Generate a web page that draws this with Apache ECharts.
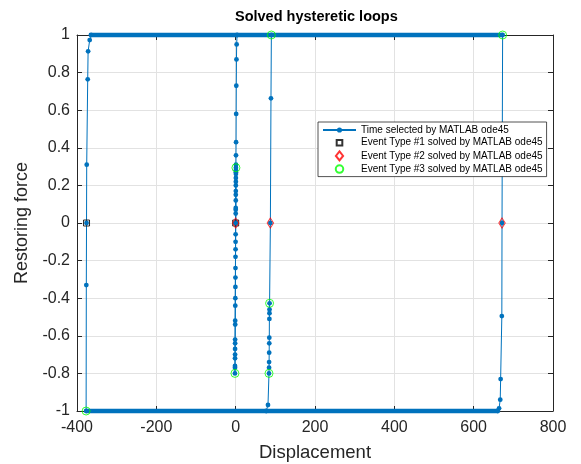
<!DOCTYPE html>
<html><head><meta charset="utf-8">
<script src="https://cdn.jsdelivr.net/npm/echarts@6/dist/echarts.min.js"></script>
<style>html,body{margin:0;padding:0;background:#fff}#c{width:581px;height:464px}</style>
</head><body><div id="c"></div>
<script>
// Axis ticks
const xTicks = [-400, -200, 0, 200, 400, 600, 800];
const yTicks = [-1, -0.8, -0.6, -0.4, -0.2, 0, 0.2, 0.4, 0.6, 0.8, 1];

// Time steps selected by ode45 (trajectory order), displacement / restoring force
const pathX = [
  0, 0.2, 0.4, 0.5, 0.6, 0.65,
  0.6, 0.5, 0.3, 0.15, 0, -0.1, -0.3, -0.5, -0.7, -1.0, -1.2, -1.4, -1.5, -1.6, -1.7, -1.8,
  -1.7, -1.5, -1.4, -1.2, -0.9, -0.6, -0.4, -0.2, 0, 0.1, 0.3, 0.4, 0.6, 0.7, 0.8, 1.0, 1.3, 1.6, 2.0, 2.5, 3.5,
  673,
  671.5, 671, 668, 667, 664, 661,
  -377,
  -376.5, -376, -375.5, -373, -372, -368, -365,
  90,
  89, 87.5, 85.5, 85.3, 85.2, 85, 84.8, 84.7, 84.5, 84.3, 84.2, 84, 81.5, 77
];
const pathY = [
  0, 0.08, 0.17, 0.24, 0.28, 0.294,
  0.27, 0.22, 0.15, 0.07, 0, -0.06, -0.14, -0.24, -0.34, -0.44, -0.54, -0.62, -0.67, -0.72, -0.77, -0.80,
  -0.76, -0.70, -0.64, -0.52, -0.40, -0.29, -0.18, -0.10, 0, 0.05, 0.12, 0.20, 0.26, 0.31, 0.36, 0.43, 0.58, 0.73, 0.87, 0.95, 1,
  1,
  0, -0.495, -0.83, -0.94, -0.986, -1,
  -1,
  -0.33, 0, 0.31, 0.764, 0.913, 0.973, 1,
  1,
  0.663, 0, -0.427, -0.46, -0.48, -0.51, -0.61, -0.64, -0.69, -0.74, -0.77, -0.80, -0.968, -1
];

// Dense time steps along the yielded plateaus (extent)
const plateauTopX = [-365, 673];
const plateauBottomX = [-377, 661];

// Events
const ev1X = [-376, 0];
const ev1Y = [0, 0];
const ev2X = [0, 87.5, 671.5];
const ev2Y = [0, 0, 0];
const ev3X = [0.65, -1.8, 673, -377, 90, 85.5, 84];
const ev3Y = [0.294, -0.80, 1, -1, 1, -0.427, -0.80];

const FONT = 'Liberation Sans, Arial, Helvetica, sans-serif';
const AX = '#262626';
const BLUE = '#0072BD';
const zip = (a, b) => a.map((v, i) => [v, b[i]]);
const NAME0 = 'Time selected by MATLAB ode45';
// marker shapes (padded so legend icons keep MATLAB-like proportions)
const DOT = 'path://M-2,-2M10,5A5,5 0 1 1 0,5A5,5 0 1 1 10,5ZM12,12';
const SQUARE = 'path://M-3,-3M0,0L10,0L10,10L0,10ZM13,13';
const DIAMOND = 'path://M4,0L8,5L4,10L0,5Z';
const RING = 'path://M-1,-1M10,5A5,5 0 1 1 0,5A5,5 0 1 1 10,5ZM11,11';

const chart = echarts.init(document.getElementById('c'), null, {renderer: 'canvas'});

const baseX = {
  type: 'value', min: xTicks[0], max: xTicks[xTicks.length - 1], interval: xTicks[1] - xTicks[0]
};
const baseY = {
  type: 'value', min: yTicks[0], max: yTicks[yTicks.length - 1], interval: 0.2
};
const TICK_FS = 16;

chart.setOption({
  animation: false,
  backgroundColor: '#fff',
  title: {
    text: 'Solved hysteretic loops', left: 230, top: 4,
    textStyle: {fontSize: 14.5, fontWeight: 'bold', color: '#000', fontFamily: FONT}
  },
  grid: {left: 77, right: 28, top: 35, bottom: 53, containLabel: false, outerBoundsMode: 'none'},
  legend: {
    orient: 'vertical', left: 318, top: 122,
    padding: [3, 4, 2, 4], itemGap: 2.2, itemWidth: 33, itemHeight: 9,
    borderColor: AX, borderWidth: 0.8, backgroundColor: '#fff', borderRadius: 0,
    textStyle: {fontSize: 10, lineHeight: 10, color: '#000', fontFamily: FONT},
    data: [NAME0,
      'Event Type #1 solved by MATLAB ode45',
      'Event Type #2 solved by MATLAB ode45',
      'Event Type #3 solved by MATLAB ode45']
  },
  xAxis: [
    Object.assign({}, baseX, {
      position: 'bottom',
      axisLine: {show: true, onZero: false, lineStyle: {color: AX, width: 1}},
      axisTick: {show: true, inside: true, length: 5, lineStyle: {color: AX}},
      axisLabel: {margin: 9, fontSize: TICK_FS, color: AX, fontFamily: FONT},
      splitLine: {show: true, lineStyle: {color: '#e2e2e2', width: 1}},
      name: 'Displacement', nameLocation: 'middle', nameGap: 32,
      nameTextStyle: {fontSize: 18.5, color: AX, fontFamily: FONT}
    }),
    Object.assign({}, baseX, {
      position: 'top',
      axisLine: {show: true, onZero: false, lineStyle: {color: AX, width: 1}},
      axisTick: {show: true, inside: true, length: 5, lineStyle: {color: AX}},
      axisLabel: {show: false}, splitLine: {show: false}
    })
  ],
  yAxis: [
    Object.assign({}, baseY, {
      position: 'left',
      axisLine: {show: true, onZero: false, lineStyle: {color: AX, width: 1}},
      axisTick: {show: true, inside: true, length: 5, lineStyle: {color: AX}},
      axisLabel: {margin: 7, fontSize: TICK_FS, color: AX, fontFamily: FONT,
        formatter: v => String(Math.round(v * 10) / 10)},
      splitLine: {show: true, lineStyle: {color: '#e2e2e2', width: 1}},
      name: 'Restoring force', nameLocation: 'middle', nameGap: 46,
      nameTextStyle: {fontSize: 18, color: AX, fontFamily: FONT}
    }),
    Object.assign({}, baseY, {
      position: 'right',
      axisLine: {show: true, onZero: false, lineStyle: {color: AX, width: 1}},
      axisTick: {show: true, inside: true, length: 5, lineStyle: {color: AX}},
      axisLabel: {show: false}, splitLine: {show: false}
    })
  ],
  series: [
    {
      name: NAME0, type: 'line', data: zip(pathX, pathY), clip: false,
      symbol: DOT, symbolSize: 6.7, showSymbol: true,
      lineStyle: {color: BLUE, width: 1}, itemStyle: {color: BLUE}, z: 2
    },
    {
      name: NAME0, type: 'line', data: plateauTopX.map(x => [x, 1]), clip: false,
      symbol: 'none', lineStyle: {color: BLUE, width: 4.5}, z: 2
    },
    {
      name: NAME0, type: 'line', data: plateauBottomX.map(x => [x, -1]), clip: false,
      symbol: 'none', lineStyle: {color: BLUE, width: 4.5}, z: 2
    },
    {
      name: 'Event Type #1 solved by MATLAB ode45', type: 'scatter', data: zip(ev1X, ev1Y), clip: false,
      symbol: SQUARE, symbolSize: 9.6, symbolKeepAspect: true,
      itemStyle: {color: 'rgba(0,0,0,0)', borderColor: '#000', borderWidth: 1}, z: 3
    },
    {
      name: 'Event Type #2 solved by MATLAB ode45', type: 'scatter', data: zip(ev2X, ev2Y), clip: false,
      symbol: DIAMOND, symbolSize: [8, 10], symbolKeepAspect: true,
      itemStyle: {color: 'rgba(0,0,0,0)', borderColor: '#ff0000', borderWidth: 1}, z: 4
    },
    {
      name: 'Event Type #3 solved by MATLAB ode45', type: 'scatter', data: zip(ev3X, ev3Y), clip: false,
      symbol: RING, symbolSize: 9.6, symbolKeepAspect: true,
      itemStyle: {color: 'rgba(0,0,0,0)', borderColor: '#00ff00', borderWidth: 1}, z: 5
    }
  ]
});
</script></body></html>
